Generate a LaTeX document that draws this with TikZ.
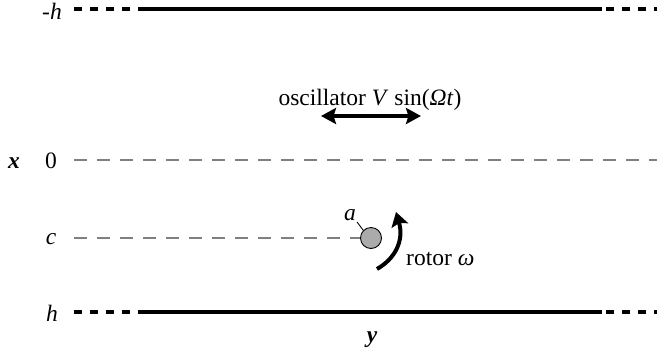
\documentclass[tikz,border=0pt]{standalone}
\usepackage{fontspec}
\setmainfont{Liberation Serif}
\usetikzlibrary{arrows.meta}
\begin{document}
\begin{tikzpicture}[x=1bp,y=-1bp,
  lbl/.style={inner sep=0pt,font=\fontsize{23.5bp}{26bp}\selectfont},
  axlbl/.style={inner sep=0pt,font=\fontsize{23.5bp}{26bp}\selectfont\bfseries\itshape},
  wall/.style={line width=3.4bp},
  walldash/.style={line width=3.4bp,dash pattern=on 8bp off 8bp},
  midline/.style={line width=1.7bp,black!50,dash pattern=on 13bp off 10bp},
  oschead/.tip={Stealth[length=15bp,width=16bp,inset=2.5bp]}]
\useasboundingbox (0,0) rectangle (657,360);
% walls
\coordinate (tl0) at (74,9); \coordinate (tl1) at (138,9);
\coordinate (tr0) at (602,9); \coordinate (tr1) at (657,9);
\coordinate (bl0) at (74,312); \coordinate (bl1) at (138,312);
\coordinate (br0) at (602,312); \coordinate (br1) at (657,312);
\draw[walldash] (tl0) -- (tl1);
\draw[wall] (tl1) -- (tr0);
\draw[walldash] ([xshift=4bp]tr0) -- (tr1);
\draw[walldash] (bl0) -- (bl1);
\draw[wall] (bl1) -- (br0);
\draw[walldash] ([xshift=4bp]br0) -- (br1);
% labels
\node[lbl] (mh) at (52,11) {\textit{-h}};
\node[lbl] (ph) at (52,313) {\textit{h}};
\node[lbl] (zero) at (51,161) {0};
\node[lbl] (cc) at (51,239) {\textit{c}};
\node[axlbl] (xx) at (14,163) {x};
\node[axlbl] (yy) at (372,340) {y};
% midlines
\coordinate (m0) at (74,160); \coordinate (m1) at (657,160);
\draw[midline] (m0) -- (m1);
\coordinate (c0) at (74,238);
% rotor
\node[circle,draw=black,fill=black!33,minimum size=21bp,inner sep=0pt,line width=0.9bp] (rot) at (371,238) {};
\draw[midline] (c0) -- (rot.west);
\node[lbl] (alab) at (350,215) {\textit{a}};
\draw[line width=0.9bp] (357,222) -- (rot.north west);
\coordinate (r0) at (377,269); \coordinate (r1) at (396,212);
\draw[line width=4bp,-{Stealth[length=14bp,width=17bp,inset=2.5bp]}] (r0) .. controls (396,258) and (404,240) .. (r1);
\node[lbl,anchor=west] (rlab) at (406,259) {rotor \textit{ω}};
% oscillator
\node[lbl] (olab) at (370,100) {oscillator \textit{V} sin(\textit{Ω}\textit{t})};
\coordinate (o0) at (321,116); \coordinate (o1) at (421,116);
\draw[line width=3.4bp,oschead-oschead] (o0) -- (o1);
\end{tikzpicture}
\end{document}
